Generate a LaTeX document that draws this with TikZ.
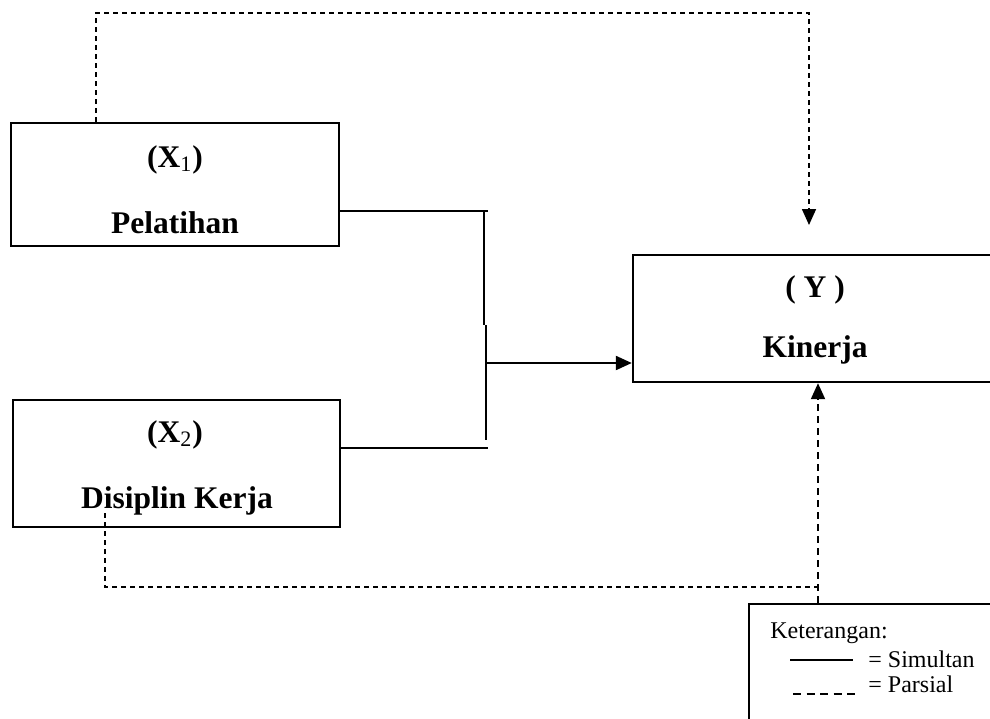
\documentclass[tikz,border=0pt]{standalone}
\usepackage{fontspec}
\setmainfont{Liberation Serif}
\usetikzlibrary{arrows.meta,calc}
\begin{document}
\begin{tikzpicture}[x=0.5pt,y=-0.5pt,
  box/.style={draw,line width=1.2pt,inner sep=0pt,rectangle},
  lbl/.style={font=\bfseries\fontsize{15.75}{18}\selectfont,anchor=base,inner sep=0pt},
  leg/.style={font=\fontsize{12}{14}\selectfont,anchor=base west,inner sep=0pt},
  simul/.style={line width=1.1pt},
  parsial/.style={line width=0.8pt,dash pattern=on 2.5pt off 2pt},
  tip/.style={-{Triangle[length=8pt,width=7pt]}}]
\clip (0,0) rectangle (990,718);
\fill[white] (0,0) rectangle (990,718);
% boxes
\node[box,minimum width=164pt,minimum height=61.5pt] (x1) at (175,184.5) {};
\node[box,minimum width=163.5pt,minimum height=63.5pt] (x2) at (176.5,463.5) {};
\node[box,minimum width=182pt,minimum height=63.5pt] (y) at (815,318.5) {};
\node[box,minimum width=131pt,minimum height=76pt] (lg) at (880,680) {};
% texts
\node[lbl] (x1a) at (175,167) {(X\textsubscript{\mdseries 1})};
\node[lbl] (x1b) at (175,233) {Pelatihan};
\node[lbl] (x2a) at (175,442) {(X\textsubscript{\mdseries 2})};
\node[lbl] (x2b) at (177,508) {Disiplin Kerja};
\node[lbl] (ya) at (815,297) {( Y )};
\node[lbl] (yb) at (815,357) {Kinerja};
% bracket (simultan)
\coordinate (b1) at (488,211);
\coordinate (b2) at (488,448);
\coordinate (v1) at (484,211);
\coordinate (v2) at (484,325);
\coordinate (v3) at (486,325);
\coordinate (v4) at (486,440);
\coordinate (m) at (486,363);
\draw[simul] (x1.east |- b1) -- (b1);
\draw[simul] (x2.east |- b2) -- (b2);
\draw[simul] (v1) -- (v2);
\draw[simul] (v3) -- (v4);
\draw[simul,tip] (m) -- (y.west |- m);
% partial X1
\coordinate (p1) at (96,13);
\coordinate (p2) at (809,13);
\coordinate (p3) at (809,225);
\draw[parsial,tip] (x1.north -| p1) -- (p1) -- (p2) -- (p3);
% partial X2
\coordinate (q0) at (105,513);
\coordinate (q1) at (105,587);
\coordinate (q2) at (818,587);
\draw[parsial] (q0) -- (q1) -- (q2);
\draw[line width=1pt,dash pattern=on 3.5pt off 2.5pt,tip] (lg.north -| q2) -- (y.south -| q2);
% legend
\node[leg] (k) at (770,638) {Keterangan:};
\coordinate (s1) at (790,660);
\coordinate (s2) at (853,660);
\coordinate (d1) at (793,694);
\coordinate (d2) at (857,694);
\draw[simul] (s1) -- (s2);
\draw[line width=1pt,dash pattern=on 4pt off 2.75pt] (d1) -- (d2);
\node[leg] (ls) at (868,667) {= Simultan};
\node[leg] (lp) at (868,692) {= Parsial};
\end{tikzpicture}
\end{document}
